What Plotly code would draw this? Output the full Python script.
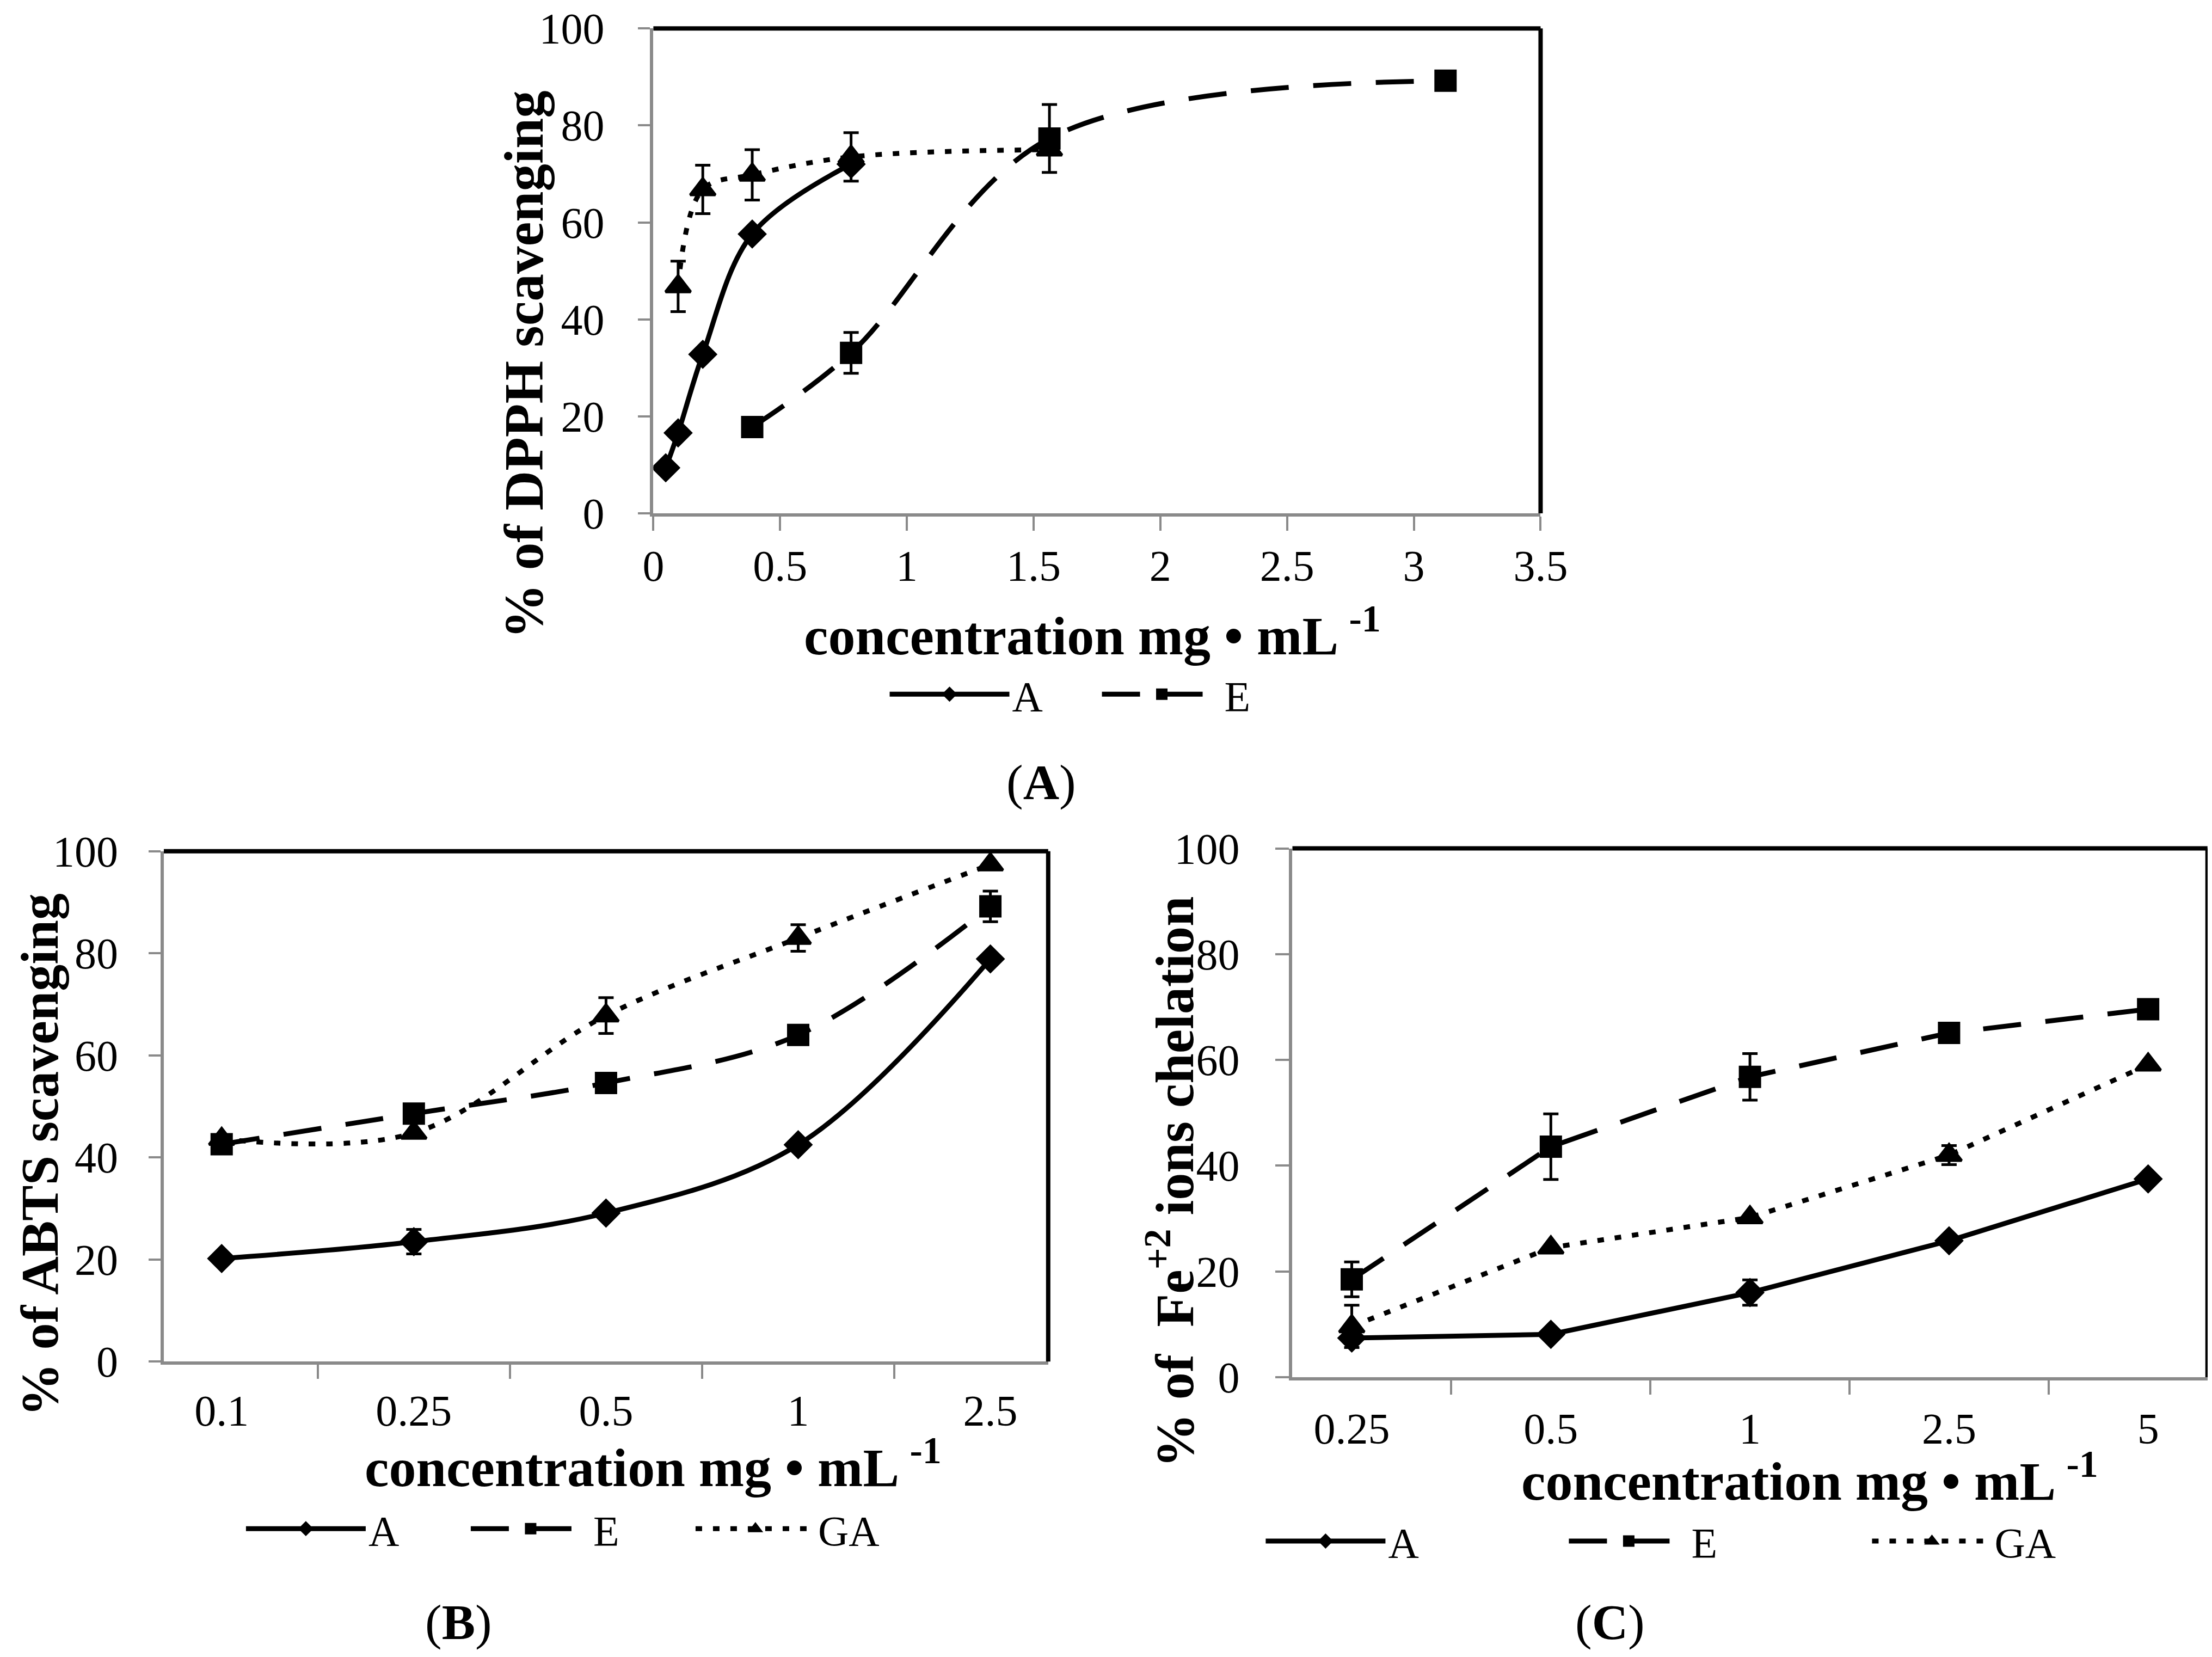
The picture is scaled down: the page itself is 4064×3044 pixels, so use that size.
import plotly.graph_objects as go

FONT = "Liberation Serif, Times New Roman, serif"
GREY = "#8a8a8a"

# (A) DPPH scavenging, numeric concentration axis
dpph_x_a = [0.0488, 0.0977, 0.195, 0.39, 0.78]
dpph_a = [9.4, 16.6, 32.8, 57.6, 72.0]
dpph_a_err = [0, 0, 0, 0, 0]
dpph_x_e = [0.39, 0.78, 1.5625, 3.125]
dpph_e = [17.8, 33.1, 77.3, 89.2]
dpph_e_err = [0, 4.2, 7.0, 0]
dpph_x_ga = [0.0977, 0.195, 0.39, 0.78, 1.5625]
dpph_ga = [46.8, 66.8, 69.8, 73.5, 75.0]
dpph_ga_err = [5.2, 5.0, 5.2, 5.0, 0]

# (B) ABTS scavenging
abts_cats = ["0.1", "0.25", "0.5", "1", "2.5"]
abts_a = [20.2, 23.5, 29.1, 42.5, 78.9]
abts_a_err = [0, 2.4, 0, 0, 0]
abts_e = [42.6, 48.6, 54.6, 64.0, 89.2]
abts_e_err = [0, 0, 0, 0, 3.0]
abts_ga = [43.6, 44.8, 67.8, 83.0, 97.4]
abts_ga_err = [0, 0, 3.5, 2.6, 0]

# (C) Fe+2 ions chelation
fe_cats = ["0.25", "0.5", "1", "2.5", "5"]
fe_a = [7.4, 8.1, 16.0, 25.8, 37.5]
fe_a_err = [0, 1.0, 2.4, 0, 0]
fe_e = [18.5, 43.6, 56.8, 65.1, 69.6]
fe_e_err = [3.3, 6.2, 4.4, 0, 0]
fe_ga = [9.6, 24.5, 30.2, 42.0, 59.1]
fe_ga_err = [4.0, 0, 0, 1.8, 0]

xtitle = "<b>concentration mg • mL <sup>-1</sup></b>"

styles = {
    "A": dict(symbol="diamond", size=36, dash="solid"),
    "E": dict(symbol="square", size=36, dash="70px,45px"),
    "GA": dict(symbol="triangle-up", size=40, dash="12px,20px"),
}


def serie(name, x, y, err, xa, ya, legend, show=True, shape="spline"):
    st = styles[name]
    return go.Scatter(
        x=x, y=y, name=name,
        mode="lines+markers",
        xaxis=xa, yaxis=ya,
        legend=legend, showlegend=show,
        line=dict(color="black", width=9, dash=st["dash"], shape=shape, smoothing=1),
        marker=dict(symbol=st["symbol"], size=st["size"], color="black",
                    line=dict(color="black", width=5)),
        error_y=dict(type="data", array=err, color="black", thickness=5, width=14),
    )


fig = go.Figure()

# A
fig.add_trace(serie("A", dpph_x_a, dpph_a, dpph_a_err, "x", "y", "legend"))
fig.add_trace(serie("E", dpph_x_e, dpph_e, dpph_e_err, "x", "y", "legend"))
fig.add_trace(serie("GA", dpph_x_ga, dpph_ga, dpph_ga_err, "x", "y", "legend", show=False))

# B
fig.add_trace(serie("A", abts_cats, abts_a, abts_a_err, "x2", "y2", "legend2"))
fig.add_trace(serie("E", abts_cats, abts_e, abts_e_err, "x2", "y2", "legend2"))
fig.add_trace(serie("GA", abts_cats, abts_ga, abts_ga_err, "x2", "y2", "legend2"))

# C
fig.add_trace(serie("A", fe_cats, fe_a, fe_a_err, "x3", "y3", "legend3", shape="linear"))
fig.add_trace(serie("E", fe_cats, fe_e, fe_e_err, "x3", "y3", "legend3", shape="linear"))
fig.add_trace(serie("GA", fe_cats, fe_ga, fe_ga_err, "x3", "y3", "legend3", shape="linear"))

axis_common = dict(
    showline=True, linecolor=GREY, linewidth=6,
    ticks="outside", tickcolor=GREY, tickwidth=4,
    showgrid=False, zeroline=False, automargin=False,
    tickfont=dict(family=FONT, size=80, color="black"),
)

legend_common = dict(xanchor="left", yanchor="middle", orientation="h", itemwidth=220,
                     font=dict(family=FONT, size=78, color="black"),
                     bgcolor="rgba(0,0,0,0)")

fig.update_layout(
    width=4064, height=3044,
    margin=dict(l=0, r=0, t=0, b=0),
    paper_bgcolor="white", plot_bgcolor="white",
    font=dict(family=FONT, color="black"),
    xaxis=dict(domain=[0.2934, 0.6945], range=[0, 3.5], dtick=0.5, anchor="y",
               ticklen=26, ticklabelstandoff=-4, **axis_common),
    yaxis=dict(domain=[0.6928, 0.9855], range=[0, 100], dtick=20, anchor="x",
               ticklen=22, ticklabelstandoff=46, **axis_common),
    xaxis2=dict(domain=[0.0721, 0.4719], type="category", tickson="boundaries", anchor="y2",
                ticklen=26, ticklabelstandoff=16, **axis_common),
    yaxis2=dict(domain=[0.1809, 0.4889], range=[0, 100], dtick=20, anchor="x2",
                ticklen=22, ticklabelstandoff=40, **axis_common),
    xaxis3=dict(domain=[0.5823, 0.9960], type="category", tickson="boundaries", anchor="y3",
                ticklen=26, ticklabelstandoff=20, **axis_common),
    yaxis3=dict(domain=[0.1715, 0.4906], range=[0, 100], dtick=20, anchor="x3",
                ticklen=25, ticklabelstandoff=50, **axis_common),
    legend=dict(x=0.399, y=0.5836, entrywidth=155, **legend_common),
    legend2=dict(x=0.108, y=0.0800, entrywidth=178, **legend_common),
    legend3=dict(x=0.569, y=0.0725, entrywidth=322, **legend_common),
)

# black frame on the top and right of each panel
for xa, ya in [("x", "y"), ("x2", "y2"), ("x3", "y3")]:
    fig.add_shape(type="line", xref=f"{xa} domain", yref=f"{ya} domain",
                  x0=0, x1=1, y0=1, y1=1, line=dict(color="black", width=8))
    fig.add_shape(type="line", xref=f"{xa} domain", yref=f"{ya} domain",
                  x0=1, x1=1, y0=0, y1=1, line=dict(color="black", width=8))


def label(text, x, y, size, angle=0):
    fig.add_annotation(text=text, x=x, y=y, xref="paper", yref="paper",
                       xanchor="center", yanchor="middle", showarrow=False,
                       textangle=angle, font=dict(family=FONT, size=size, color="black"))


# x axis titles
label(xtitle, 0.492, 0.6211, 100)
label(xtitle, 0.2934, 0.1194, 100)
label(xtitle, 0.8163, 0.1109, 100)

# y axis titles
label("<b>% of DPPH scavenging</b>", 0.2350, 0.7824, 101, -90)
label("<b>% of ABTS scavenging</b>", 0.0160, 0.3055, 98, -90)
label("<b>% of\u00a0 Fe<sup>+2</sup> ions chelation</b>", 0.5275, 0.2893, 100, -90)

# panel labels
label("(<b>A</b>)", 0.4688, 0.5305, 92)
label("(<b>B</b>)", 0.2054, 0.0238, 92)
label("(<b>C</b>)", 0.7258, 0.0238, 92)

fig.write_html("out.html")
